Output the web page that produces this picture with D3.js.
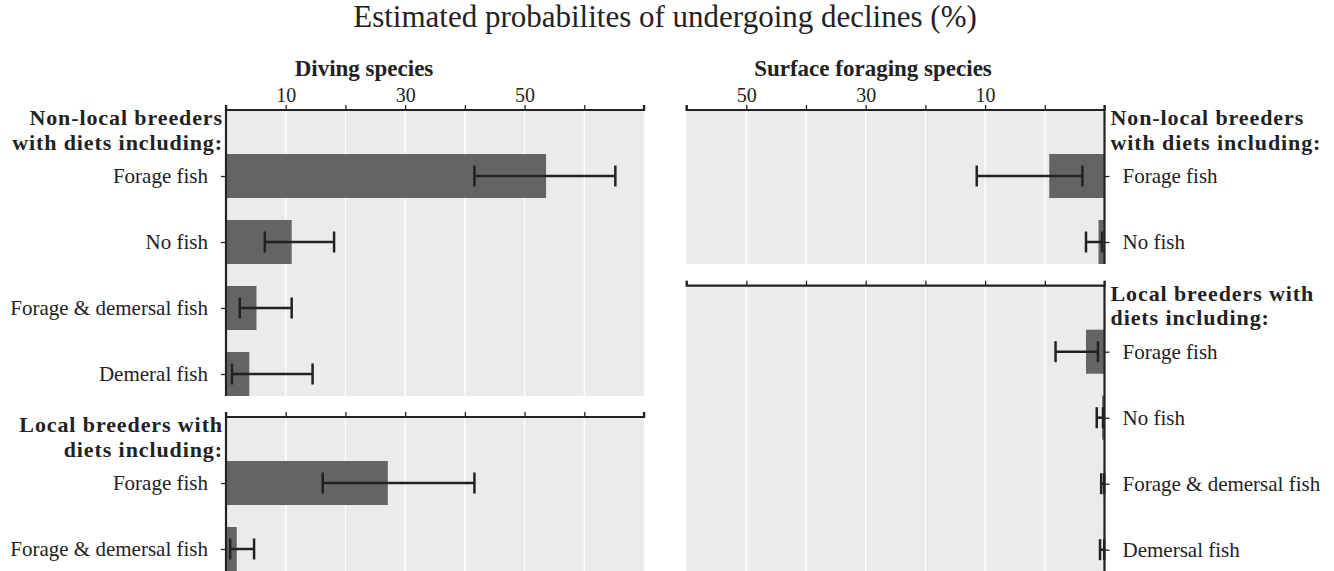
<!DOCTYPE html>
<html>
<head>
<meta charset="utf-8">
<script src="https://cdn.jsdelivr.net/npm/d3@7"></script>
<style>
  body { margin: 0; background: #fff; }
  svg text { font-family: "Liberation Serif", "DejaVu Serif", serif; fill: #222; }
  .axis path, .axis line { stroke: #222; }
</style>
</head>
<body>
<div id="chart-area"></div>
<script>
// datos
const leftTopCats = ["Forage fish", "No fish", "Forage & demersal fish", "Demeral fish"]
const leftTopMean = [53.6, 11.0, 5.1, 3.9]
const leftTopLo = [41.6, 6.5, 2.3, 1.0]
const leftTopHi = [65.2, 18.1, 11.0, 14.5]

const leftBotCats = ["Forage fish", "Forage & demersal fish"]
const leftBotMean = [27.1, 1.8]
const leftBotLo = [16.2, 0.7]
const leftBotHi = [41.6, 4.7]

const rightTopCats = ["Forage fish", "No fish"]
const rightTopMean = [9.25, 1.0]
const rightTopLo = [3.7, 0.4]
const rightTopHi = [21.4, 3.1]

const rightBotCats = ["Forage fish", "No fish", "Forage & demersal fish", "Demersal fish"]
const rightBotMean = [3.1, 0.4, 0.1, 0.1]
const rightBotLo = [1.1, 0.25, 0.05, 0.05]
const rightBotHi = [8.2, 1.3, 0.55, 0.75]

// ticks del eje x
const xTicks = [0, 10, 20, 30, 40, 50, 60, 70]
const leftTickVals = [10, 30, 50]
const leftTickText = ["10", "30", "50"]
const rightTickVals = [20, 40, 60]
const rightTickText = ["10", "30", "50"]

const nonLocalHeader = ["Non-local breeders", "with diets including:"]
const localHeader = ["Local breeders with", "diets including:"]

const WIDTH = 1334
const HEIGHT = 571
const STEP = 66
const BAR_H = 44
const CAP = 10.5

const svg = d3.select("#chart-area").append("svg")
    .attr("width", WIDTH)
    .attr("height", HEIGHT)

// titulos
svg.append("text")
    .attr("x", 665)
    .attr("y", 27)
    .attr("text-anchor", "middle")
    .style("font-size", "31px")
    .text("Estimated probabilites of undergoing declines (%)")

svg.append("text")
    .attr("x", 364)
    .attr("y", 76)
    .attr("text-anchor", "middle")
    .style("font-size", "23px")
    .style("font-weight", "bold")
    .text("Diving species")

svg.append("text")
    .attr("x", 873)
    .attr("y", 76)
    .attr("text-anchor", "middle")
    .style("font-size", "23px")
    .style("font-weight", "bold")
    .text("Surface foraging species")

// scales
const xLeft = d3.scaleLinear().domain([0, 70]).range([226, 644])
const xRight = d3.scaleLinear().domain([0, 70]).range([1104.5, 686.6])

function panel(opt) {
    const x = opt.x
    const cats = opt.cats
    const y = d3.scalePoint()
        .domain(["__hdr"].concat(cats))
        .range([opt.top, opt.top + STEP * cats.length])
    const bottom = y(cats[cats.length - 1]) + BAR_H / 2
    const g = svg.append("g")
    const x0 = x(0), x70 = x(70)

    // fondo
    g.append("rect")
        .attr("x", Math.min(x0, x70))
        .attr("y", opt.top)
        .attr("width", Math.abs(x70 - x0))
        .attr("height", bottom - opt.top)
        .attr("fill", "#ebebed")

    // grid
    g.selectAll(".grid")
        .data(xTicks.slice(1, -1))
        .enter().append("line")
            .attr("class", "grid")
            .attr("x1", d => x(d))
            .attr("x2", d => x(d))
            .attr("y1", opt.top)
            .attr("y2", bottom)
            .attr("stroke", "#fff")
            .attr("stroke-width", 1.3)

    const data = cats.map((c, i) => ({ cat: c, m: opt.mean[i], lo: opt.lo[i], hi: opt.hi[i] }))

    // barras
    g.selectAll(".bar")
        .data(data)
        .enter().append("rect")
            .attr("class", "bar")
            .attr("x", d => Math.min(x(0), x(d.m)))
            .attr("y", d => y(d.cat) - BAR_H / 2)
            .attr("width", d => Math.abs(x(d.m) - x(0)))
            .attr("height", BAR_H)
            .attr("fill", "#646464")

    // barras de error
    const eb = g.selectAll(".err")
        .data(data)
        .enter().append("g")
            .attr("class", "err")
            .attr("stroke", "#222")
            .attr("stroke-width", 2.5)
    eb.append("line")
        .attr("x1", d => x(d.lo))
        .attr("x2", d => x(d.hi))
        .attr("y1", d => y(d.cat))
        .attr("y2", d => y(d.cat))
    eb.append("line")
        .attr("x1", d => x(d.lo))
        .attr("x2", d => x(d.lo))
        .attr("y1", d => y(d.cat) - CAP)
        .attr("y2", d => y(d.cat) + CAP)
    eb.append("line")
        .attr("x1", d => x(d.hi))
        .attr("x2", d => x(d.hi))
        .attr("y1", d => y(d.cat) - CAP)
        .attr("y2", d => y(d.cat) + CAP)

    // eje x arriba
    const xAxisCall = d3.axisTop(x)
        .tickValues(xTicks)
        .tickSize(5)
        .tickPadding(3)
        .tickFormat(d => {
            if (!opt.labels) return ""
            const k = opt.tickVals.indexOf(d)
            return k >= 0 ? opt.tickText[k] : ""
        })
    const xAxis = g.append("g")
        .attr("class", "x axis")
        .attr("transform", `translate(0, ${opt.top})`)
        .call(xAxisCall)
    xAxis.select(".domain").attr("stroke-width", 2.2).attr("d", `M${x0},-5V0H${x70}V-5`)
    xAxis.selectAll(".tick line").attr("stroke-width", 1.3)
    xAxis.selectAll("text")
        .style("font-size", "20px")
        .attr("fill", "#222")

    // eje y
    const yAxisCall = (opt.side === "left" ? d3.axisLeft(y) : d3.axisRight(y))
        .tickValues(cats)
        .tickSize(5)
        .tickPadding(13)
    const yAxis = g.append("g")
        .attr("class", "y axis")
        .attr("transform", `translate(${x0}, 0)`)
        .call(yAxisCall)
    yAxis.select(".domain").remove()
    yAxis.selectAll(".tick line").attr("stroke-width", 1.3)
    yAxis.selectAll("text")
        .style("font-size", "21px")
        .attr("fill", "#333")
    g.append("line")
        .attr("x1", x0)
        .attr("x2", x0)
        .attr("y1", opt.top)
        .attr("y2", bottom)
        .attr("stroke", "#222")
        .attr("stroke-width", 2.2)

    // encabezado
    const hx = opt.side === "left" ? x0 - 3 : x0 + 6
    g.selectAll(".hdr")
        .data(opt.header)
        .enter().append("text")
            .attr("class", "hdr")
            .attr("x", hx)
            .attr("y", (d, i) => opt.top + 15 + i * 24.5)
            .attr("text-anchor", opt.side === "left" ? "end" : "start")
            .style("font-size", "22px")
            .style("font-weight", "bold")
            .style("letter-spacing", "0.9px")
            .text(d => d)
}

panel({ x: xLeft, side: "left", top: 110, cats: leftTopCats, mean: leftTopMean, lo: leftTopLo, hi: leftTopHi,
    header: nonLocalHeader, labels: true, tickVals: leftTickVals, tickText: leftTickText })
panel({ x: xLeft, side: "left", top: 417, cats: leftBotCats, mean: leftBotMean, lo: leftBotLo, hi: leftBotHi,
    header: localHeader, labels: false })
panel({ x: xRight, side: "right", top: 110, cats: rightTopCats, mean: rightTopMean, lo: rightTopLo, hi: rightTopHi,
    header: nonLocalHeader, labels: true, tickVals: rightTickVals, tickText: rightTickText })
panel({ x: xRight, side: "right", top: 285.7, cats: rightBotCats, mean: rightBotMean, lo: rightBotLo, hi: rightBotHi,
    header: localHeader, labels: false })
</script>
</body>
</html>
